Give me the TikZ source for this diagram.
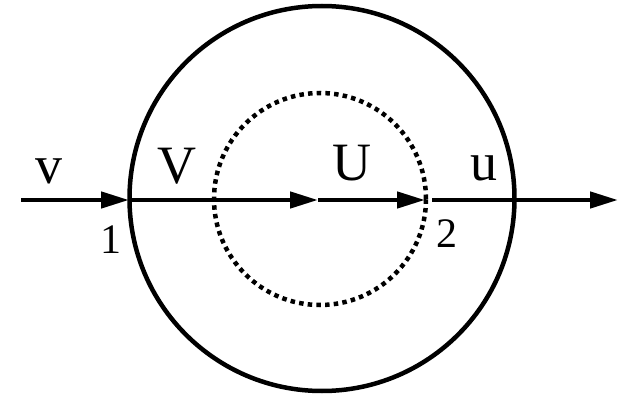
\documentclass[tikz,border=0pt]{standalone}
\usepackage{fontspec}
\setmainfont{Liberation Serif}
\newfontfamily\labelfont{Liberation Serif}
\usetikzlibrary{arrows.meta}
\tikzset{
  flow/.style={line width=4.5pt, -{Triangle[length=28pt, width=16pt]}},
  lbl/.style={font=\labelfont\fontsize{54}{60}\selectfont, anchor=base, inner sep=0pt},
  num/.style={font=\labelfont\fontsize{42}{48}\selectfont, anchor=base, inner sep=0pt},
}

\begin{document}
\begin{tikzpicture}[x=1pt, y=-1pt]
\useasboundingbox (0,0) rectangle (619,396);

% === control surfaces ===
\draw[line width=4.5pt] (322,198.5) circle [radius=192.5pt];
\draw[line width=4.5pt, dash pattern=on 4.5pt off 4.2pt] (320,199) circle [radius=106pt];

% === stream line ===
\coordinate (in) at (21,200);
\coordinate (p1) at (129,200);
\coordinate (c) at (318,200);
\coordinate (p2) at (425,200);
\coordinate (out) at (618,200);

\draw[flow] (in) -- (p1);
\draw[flow, shorten <=3pt] (p1) -- (c);
\draw[flow] (c) -- (p2);
\draw[flow, shorten <=7pt] (p2) -- (out);

% === labels ===
\node[lbl] (vin) at (49,183) {v};
\node[lbl] (Vin) at (177,183) {V};
\node[lbl] (Uout) at (352,180) {U};
\node[lbl] (uout) at (484,180) {u};
\node[num] (n1) at (111,253) {1};
\node[num] (n2) at (447,247) {2};

\end{tikzpicture}
\end{document}
